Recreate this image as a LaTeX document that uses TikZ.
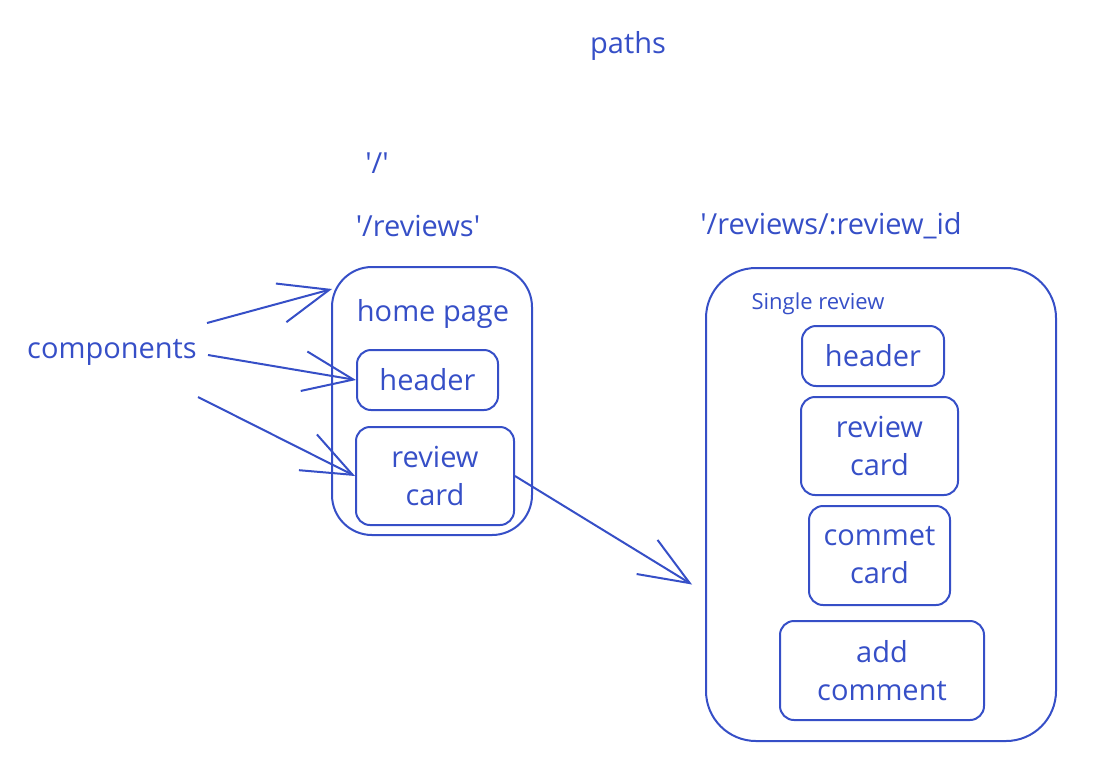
\documentclass[tikz,border=0pt]{standalone}
\usepackage{fontspec}
\setmainfont{Open Sans}
\usetikzlibrary{positioning,calc,arrows.meta}
\definecolor{ink}{RGB}{54,79,199}
\newcommand{\q}{\textquotesingle}

\begin{document}
\begin{tikzpicture}[x=1pt,y=-1pt,
	txt/.style={text=ink,font=\fontsize{29}{38}\selectfont,inner sep=0pt,align=center},
	small/.style={text=ink,font=\fontsize{22}{26}\selectfont,inner sep=0pt},
	box/.style={draw=ink,line width=2pt,rounded corners=14pt,txt},
	frame/.style={draw=ink,line width=2pt},
	arr/.style={draw=ink,line width=2pt,-{Straight Barb[length=50pt,width=40pt,line width=2pt]}}]
\useasboundingbox (0,0) rectangle (1110,772);

% titles
\node[txt](paths) at (628,46) {paths};
\node[txt](root) at (377,163) {\q/\q};
\node[txt](rev) at (418,226) {\q/reviews\q};
\node[txt](revid) at (831,226) {\q/reviews/:review\_id};
\node[txt](comp) at (112,352) {components};

% home page
\node[frame,rounded corners=40pt,minimum width=200pt,minimum height=268pt](home) at (432,401) {};
\node[txt](homelbl) at (433,314) {home page};
\node[box,minimum width=141pt,minimum height=60pt](hhead) at (427.5,380) {header};
\node[box,minimum width=158pt,minimum height=98pt](hcard) at (435,476) {review\\card};

% single review
\node[frame,rounded corners=50pt,minimum width=350pt,minimum height=473pt](single) at (881,504.5) {};
\node[small](singlelbl) at (818,304) {Single review};
\node[box,minimum width=142pt,minimum height=60pt](shead) at (873,356) {header};
\node[box,minimum width=157pt,minimum height=98pt](scard) at (879.5,446) {review\\card};
\node[box,minimum width=141pt,minimum height=99pt](ccard) at (879.5,555.5) {commet\\card};
\node[box,minimum width=204pt,minimum height=99pt](addc) at (882,670.5) {add\\comment};

\coordinate(s1) at (207,323);
\coordinate(s2) at (208,355);
\coordinate(s3) at (198,397);
\coordinate(e1) at ($(home.north west)+(1,23)$);
\coordinate(e4) at ($(single.west)+(-13,80)$);

\foreach \a/\b in {s1/e1,s2/hhead.west,s3/hcard.west}
	\draw[arr](\a)--(\b);
\draw[arr](hcard.east)--(e4);

\end{tikzpicture}
\end{document}
